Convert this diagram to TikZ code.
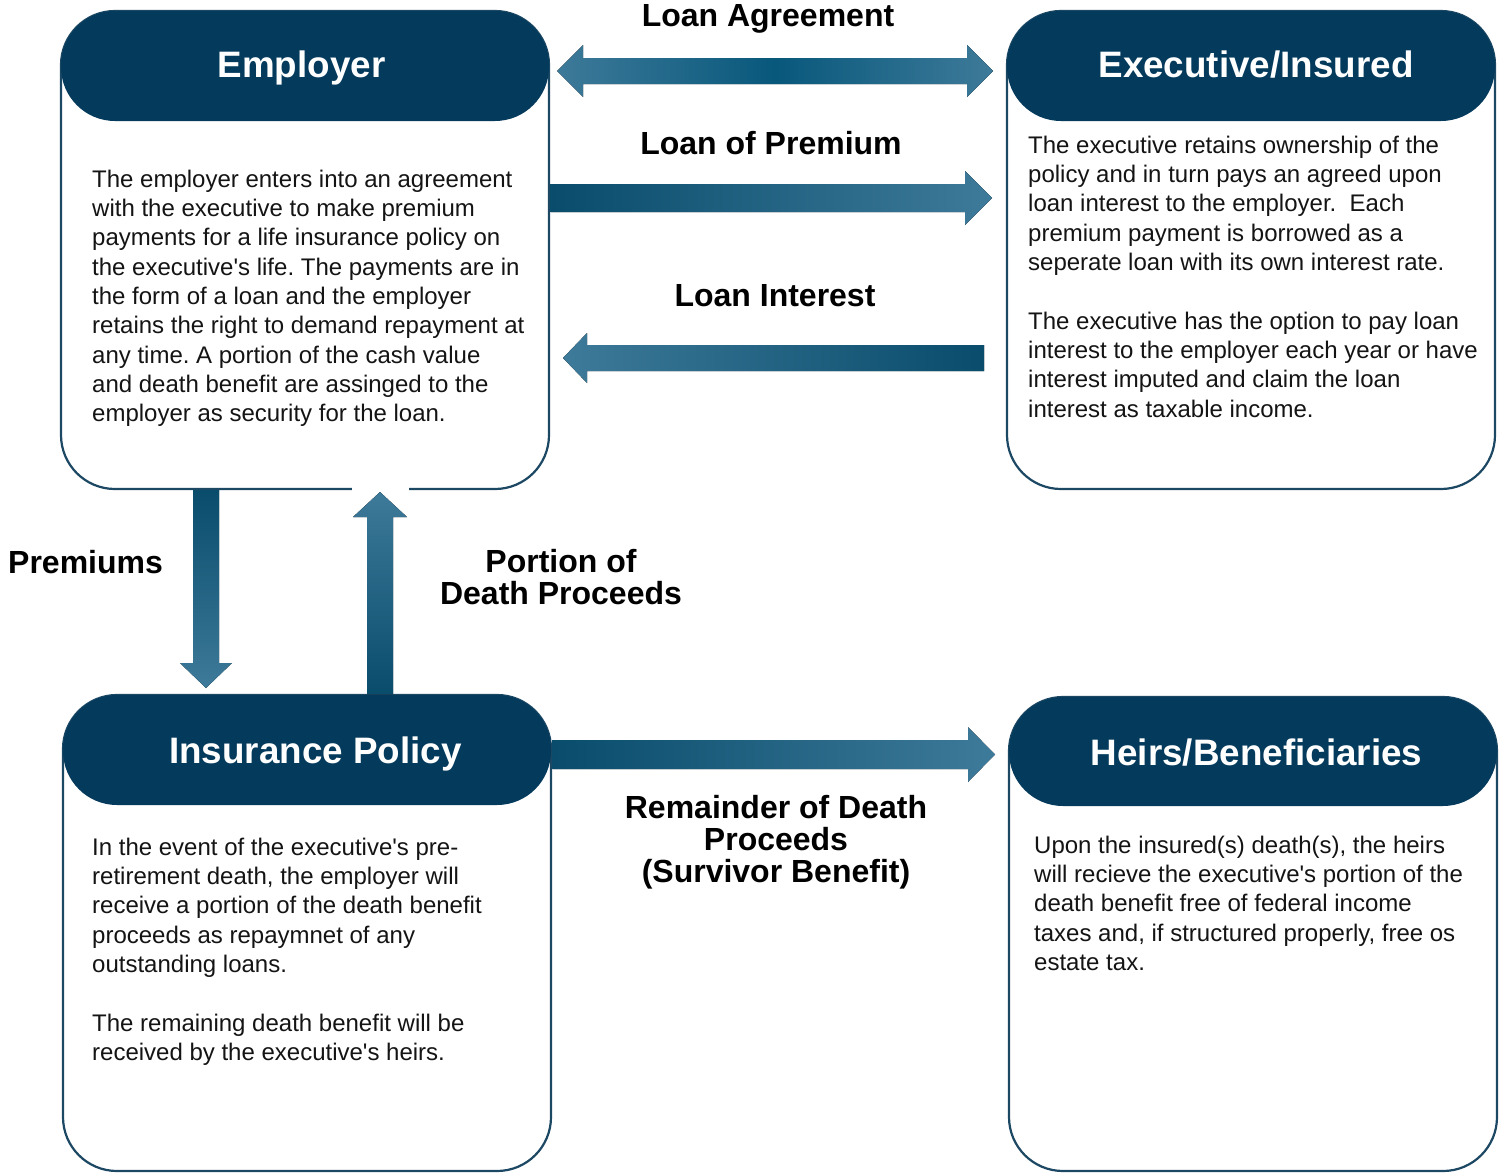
\documentclass[tikz,border=0pt]{standalone}
\usepackage{fontspec}
\setmainfont{Liberation Sans}[Ligatures=TeXOff]
\usetikzlibrary{calc}

\definecolor{hdr}{RGB}{4,58,92}
\definecolor{rim}{RGB}{28,72,100}
\definecolor{adark}{RGB}{8,88,124}
\definecolor{adeep}{RGB}{9,76,108}
\definecolor{alight}{RGB}{62,122,153}
\definecolor{ink}{RGB}{20,20,20}

\tikzset{
  frame/.style={draw=rim, line width=2.2pt, fill=white, rounded corners=54pt,
    inner sep=0pt, outer sep=0pt, minimum width=488pt, anchor=north west},
  head/.style={fill=hdr, rounded corners=54pt, inner sep=0pt, outer sep=0pt,
    minimum width=488pt, minimum height=110pt, anchor=north},
  title/.style={text=white, font=\fontsize{36.8pt}{40pt}\selectfont\bfseries,
    anchor=base, inner sep=0pt},
  body/.style={text=ink, anchor=base west, inner sep=0pt},
  flow/.style={text=black, anchor=base, inner sep=0pt},
}
\newcommand\bodytext[2]{\parbox[t]{#1}{\fontsize{24pt}{29.35pt}\selectfont\frenchspacing\raggedright #2}}
\newcommand\flowtext[1]{\parbox[t]{440pt}{\fontsize{32pt}{32pt}\selectfont\bfseries\centering #1}}
\newcommand\ap{\textquotesingle}

\begin{document}
\begin{tikzpicture}[x=1pt, y=-1pt]
\useasboundingbox (0,0) rectangle (1502,1173);

% ---- boxes ----
\node[frame, minimum height=478pt] (emp)   at (61,11)   {};
\node[frame, minimum height=478pt] (exec)  at (1007,11) {};
\node[frame, minimum height=476pt] (ins)   at (63,695)  {};
\node[frame, minimum height=474pt] (heirs) at (1009,697) {};

\node[head] (emp-h)   at (emp.north)   {};
\node[head] (exec-h)  at (exec.north)  {};
\node[head] (ins-h)   at (ins.north)   {};
\node[head, minimum height=109pt] (heirs-h) at (heirs.north) {};

\node[title] (emp-n)   at (301.5,77)  {Employer};
\node[title] (exec-n)  at (1256,77)   {Executive/Insured};
\node[title] (ins-n)   at (315.5,763) {Insurance Policy};
\node[title] (heirs-n) at (1256.5,765) {Heirs/Beneficiaries};

% ---- box texts ----
\node[body] (emp-t) at (92,187) {\bodytext{450pt}{%
The employer enters into an agreement\\
with the executive to make premium\\
payments for a life insurance policy on\\
the executive\ap s life. The payments are in\\
the form of a loan and the employer\\
retains the right to demand repayment at\\
any time. A portion of the cash value\\
and death benefit are assinged to the\\
employer as security for the loan.}};

\node[body] (exec-t) at (1028,153) {\bodytext{460pt}{%
The executive retains ownership of the\\
policy and in turn pays an agreed upon\\
loan interest to the employer.~ Each\\
premium payment is borrowed as a\\
seperate loan with its own interest rate.\\[29.35pt]
The executive has the option to pay loan\\
interest to the employer each year or have\\
interest imputed and claim the loan\\
interest as taxable income.}};

\node[body] (ins-t) at (92,855) {\bodytext{450pt}{%
In the event of the executive\ap s pre-\\
retirement death, the employer will\\
receive a portion of the death benefit\\
proceeds as repaymnet of any\\
outstanding loans.\\[29.35pt]
The remaining death benefit will be\\
received by the executive\ap s heirs.}};

\node[body] (heirs-t) at (1034,853) {\bodytext{450pt}{%
Upon the insured(s) death(s), the heirs\\
will recieve the executive\ap s portion of the\\
death benefit free of federal income\\
taxes and, if structured properly, free os\\
estate tax.}};

% ---- arrow end points ----
\coordinate (la-l) at ($(emp.north east)+(8,60)$);
\coordinate (la-r) at ($(exec.north west)+(-14,60)$);
\coordinate (lp-a) at ($(emp.north east)+(1.5,187)$);
\coordinate (lp-b) at ($(exec.north west)+(-15,187)$);
\coordinate (li-a) at ($(exec.north west)+(-23,347)$);
\coordinate (li-b) at ($(emp.north east)+(14,347)$);
\coordinate (pr-a) at ($(emp.south west)+(145,1)$);
\coordinate (pr-b) at ($(ins.north west)+(143,-7)$);
\coordinate (po-a) at ($(ins.north west)+(317,-1)$);
\coordinate (po-b) at ($(emp.south west)+(319,3)$);
\coordinate (rm-a) at ($(ins.north east)+(1.5,59.5)$);
\coordinate (rm-b) at ($(heirs.north west)+(-14,57.5)$);

% ---- block arrows ----
% Loan Agreement (both ways)
\fill[left color=alight, right color=alight, middle color=adark]
  (la-l) -- ++(26,-26) -- ++(0,13) -- ($(la-r)+(-26,-13)$) -- ++(0,-13)
  -- (la-r) -- ++(-26,26) -- ++(0,-13) -- ($(la-l)+(26,13)$) -- ++(0,13) -- cycle;

% Loan of Premium
\fill[left color=adeep, right color=alight]
  ($(lp-a)+(0,-14)$) -- ($(lp-b)+(-27,-14)$) -- ++(0,-13) -- (lp-b)
  -- ++(-27,27) -- ++(0,-13) -- ($(lp-a)+(0,14)$) -- cycle;

% Loan Interest
\fill[left color=alight, right color=adeep]
  ($(li-a)+(0,-13)$) -- ($(li-b)+(24,-13)$) -- ++(0,-12) -- (li-b)
  -- ++(24,25) -- ++(0,-12) -- ($(li-a)+(0,13)$) -- cycle;

% Premiums
\fill[top color=adeep, bottom color=alight]
  ($(pr-a)+(-13,0)$) -- ($(pr-b)+(-13,-25)$) -- ++(-13,0) -- (pr-b)
  -- ++(26,-25) -- ++(-13,0) -- ($(pr-a)+(13,0)$) -- cycle;

% Portion of Death Proceeds
\fill[white] ($(po-b)+(-28,-7)$) rectangle ($(po-b)+(29,1)$);
\fill[top color=alight, bottom color=adeep]
  ($(po-a)+(-13,0)$) -- ($(po-b)+(-13,25)$) -- ++(-14,0) -- (po-b)
  -- ++(27,25) -- ++(-14,0) -- ($(po-a)+(13,0)$) -- cycle;

% Remainder of Death Proceeds
\fill[left color=adeep, right color=alight]
  ($(rm-a)+(0,-14.5)$) -- ($(rm-b)+(-27,-14.5)$) -- ++(0,-13) -- (rm-b)
  -- ++(-27,27.5) -- ++(0,-13) -- ($(rm-a)+(0,14.5)$) -- cycle;

% ---- arrow labels ----
\node[flow] (la-t) at (768,26)  {\flowtext{Loan Agreement}};
\node[flow] (lp-t) at (771,154) {\flowtext{Loan of Premium}};
\node[flow] (li-t) at (775,306) {\flowtext{Loan Interest}};
\node[flow, anchor=base west] (pr-t) at (8,573)
  {\fontsize{32pt}{32pt}\selectfont\bfseries Premiums};
\node[flow] (po-t) at (561,572) {\flowtext{Portion of\\ Death Proceeds}};
\node[flow] (rm-t) at (776,818)
  {\flowtext{Remainder of Death\\ Proceeds\\ (Survivor Benefit)}};
\end{tikzpicture}
\end{document}
